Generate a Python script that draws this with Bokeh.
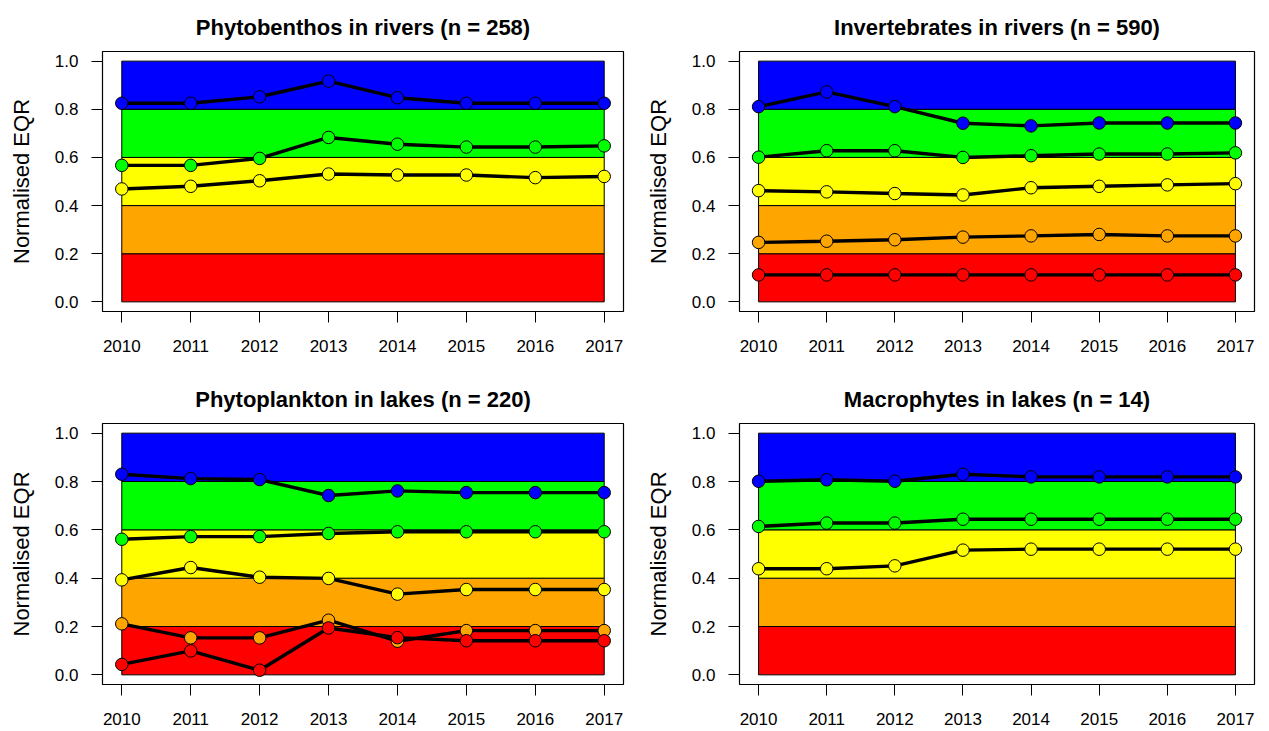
from bokeh.plotting import figure
from bokeh.layouts import column, row
from bokeh.models import Range1d, FixedTicker, PrintfTickFormatter
from bokeh.embed import file_html
from bokeh.resources import INLINE

# ---------------- data ----------------
years = [2010, 2011, 2012, 2013, 2014, 2015, 2016, 2017]

band_bottoms = [0.0, 0.2, 0.4, 0.6, 0.8]
band_tops = [0.2, 0.4, 0.6, 0.8, 1.0]
band_colors = ["#FF0000", "#FFA500", "#FFFF00", "#00FF00", "#0000FF"]

y_ticks = [0.0, 0.2, 0.4, 0.6, 0.8, 1.0]

titles = [
    "Phytobenthos in rivers (n = 258)",
    "Invertebrates in rivers (n = 590)",
    "Phytoplankton in lakes (n = 220)",
    "Macrophytes in lakes (n = 14)",
]

# Phytobenthos in rivers
pb_blue = [0.825, 0.825, 0.852, 0.917, 0.848, 0.825, 0.825, 0.825]
pb_green = [0.567, 0.567, 0.596, 0.683, 0.655, 0.643, 0.643, 0.648]
pb_yellow = [0.469, 0.480, 0.503, 0.531, 0.527, 0.527, 0.516, 0.521]

# Invertebrates in rivers
inv_blue = [0.811, 0.872, 0.811, 0.742, 0.731, 0.743, 0.743, 0.743]
inv_green = [0.601, 0.628, 0.628, 0.600, 0.607, 0.614, 0.614, 0.619]
inv_yellow = [0.462, 0.457, 0.450, 0.444, 0.474, 0.480, 0.486, 0.491]
inv_orange = [0.247, 0.252, 0.258, 0.269, 0.274, 0.280, 0.274, 0.274]
inv_red = [0.112, 0.112, 0.112, 0.112, 0.112, 0.112, 0.112, 0.112]

# Phytoplankton in lakes
pp_blue = [0.830, 0.812, 0.808, 0.742, 0.761, 0.754, 0.754, 0.754]
pp_green = [0.561, 0.572, 0.572, 0.585, 0.592, 0.592, 0.592, 0.592]
pp_yellow = [0.393, 0.444, 0.404, 0.399, 0.334, 0.353, 0.353, 0.353]
pp_orange = [0.211, 0.153, 0.153, 0.226, 0.139, 0.183, 0.183, 0.183]
pp_red = [0.043, 0.099, 0.019, 0.194, 0.154, 0.141, 0.141, 0.141]

# Macrophytes in lakes
mp_blue = [0.801, 0.807, 0.801, 0.830, 0.819, 0.819, 0.819, 0.819]
mp_green = [0.614, 0.628, 0.628, 0.644, 0.644, 0.644, 0.644, 0.644]
mp_yellow = [0.439, 0.439, 0.451, 0.516, 0.520, 0.520, 0.520, 0.520]

FONT = "Liberation Sans"


def make_panel(title, series, width, height, bl, br, bt, bb, xstandoff):
    p = figure(width=width, height=height, output_backend="svg", toolbar_location=None,
               x_range=Range1d(2009.72, 2017.28), y_range=Range1d(-0.04, 1.04),
               min_border_left=bl, min_border_right=br, min_border_top=bt,
               min_border_bottom=bb)
    p.title.text = title
    p.title.align = "center"
    p.title.text_font = FONT
    p.title.text_font_size = "22px"
    p.title.text_font_style = "bold"
    p.title.text_color = "black"
    p.title.standoff = 24
    p.grid.visible = False
    p.outline_line_color = "black"
    p.outline_line_width = 1.2
    p.background_fill_color = "white"

    p.quad(left=[years[0]] * len(band_bottoms), right=[years[-1]] * len(band_bottoms),
           bottom=band_bottoms, top=band_tops, fill_color=band_colors,
           line_color="black", line_width=1)

    for vals, col in series:
        p.line(years, vals, line_color="black", line_width=3.4)
        p.scatter(years, vals, size=12.5, fill_color=col, line_color="black", line_width=1)

    xax = p.below[0]
    yax = p.left[0]
    for ax in (xax, yax):
        ax.axis_line_color = None
        ax.major_tick_in = 0
        ax.major_tick_out = 11
        ax.major_tick_line_color = "black"
        ax.minor_tick_line_color = None
        ax.major_label_text_font = FONT
        ax.major_label_text_font_size = "17px"
        ax.major_label_text_color = "black"

    xax.ticker = FixedTicker(ticks=years)
    xax.major_label_standoff = xstandoff
    yax.ticker = FixedTicker(ticks=y_ticks)
    yax.formatter = PrintfTickFormatter(format="%.1f")
    yax.major_label_orientation = "horizontal"
    yax.major_label_standoff = 13
    yax.axis_label = "Normalised EQR"
    yax.axis_label_text_font = FONT
    yax.axis_label_text_font_size = "22px"
    yax.axis_label_text_font_style = "normal"
    yax.axis_label_text_color = "black"
    yax.axis_label_standoff = 18
    return p


p1 = make_panel(titles[0], [(pb_blue, band_colors[4]), (pb_green, band_colors[3]),
                            (pb_yellow, band_colors[2])],
                642, 372, 102, 19, 51, 61, 17)
p2 = make_panel(titles[1], [(inv_blue, band_colors[4]), (inv_green, band_colors[3]),
                            (inv_yellow, band_colors[2]), (inv_orange, band_colors[1]),
                            (inv_red, band_colors[0])],
                626, 372, 93, 14, 51, 61, 17)
p3 = make_panel(titles[2], [(pp_blue, band_colors[4]), (pp_green, band_colors[3]),
                            (pp_yellow, band_colors[2]), (pp_orange, band_colors[1]),
                            (pp_red, band_colors[0])],
                642, 358, 102, 19, 51, 46, 17)
p4 = make_panel(titles[3], [(mp_blue, band_colors[4]), (mp_green, band_colors[3]),
                            (mp_yellow, band_colors[2])],
                626, 358, 93, 14, 51, 46, 17)

layout = column(row(p1, p2), row(p3, p4))

open("out.html", "w").write(file_html(layout, INLINE))
